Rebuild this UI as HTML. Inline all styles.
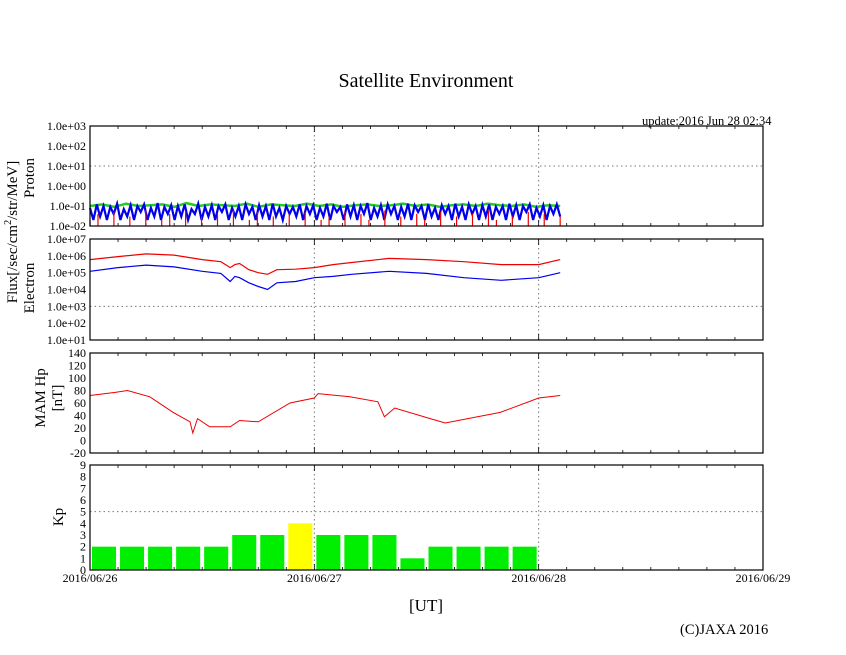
<!DOCTYPE html>
<html><head><meta charset="utf-8">
<style>
html,body{margin:0;padding:0;background:#fff;}
svg{display:block;font-family:"Liberation Serif",serif;}
</style></head>
<body>
<svg id="c" width="846" height="655" viewBox="0 0 846 655">
<text x="426" y="87" text-anchor="middle" font-size="20">Satellite Environment</text>
<text x="642" y="125" font-size="12.5">update:2016 Jun 28 02:34</text>
<text x="426" y="611" text-anchor="middle" font-size="17">[UT]</text>
<text x="680" y="634" font-size="14.5">(C)JAXA 2016</text>
<g id="g"></g>
</svg>
<script>
const dayLabels=["2016/06/26","2016/06/27","2016/06/28","2016/06/29"];
const kpValues=[2,2,2,2,2,3,3,4,3,3,3,1,2,2,2,2];
const elecHours=[0,3,6,9,12,14,15,15.5,16,17,18,19,20,22,24,26,28,32,36,40,44,48,50.3];
const elecRed=[6e5,9e5,1.3e6,1.1e6,6e5,4.5e5,2e5,3e5,3.5e5,1.5e5,1e5,8e4,1.5e5,1.6e5,2e5,3e5,4e5,7e5,6e5,4.5e5,3e5,3e5,6e5];
const elecBlue=[1.2e5,2e5,2.8e5,2.2e5,1.2e5,9e4,3e4,6e4,5e4,2.5e4,1.5e4,1e4,2.5e4,3e4,5e4,6e4,8e4,1.2e5,9e4,5e4,3.5e4,5e4,1e5];
const mamHours=[0,2.7,4,6.4,8.9,10.7,11,11.5,12.8,15,16,18,21.4,24,24.4,27.8,30.8,31.5,32.6,36.4,38,43.9,48,50.3];
const mamValues=[72,77,80,70,45,30,12,35,22,22,32,30,60,68,75,70,62,38,52,35,28,45,68,72];
const protonGreen=[0.1,0.12,0.09,0.13,0.1,0.11,0.12,0.09,0.14,0.1,0.12,0.11,0.1,0.13,0.09,0.12,0.11,0.1,0.13,0.1,0.12,0.09,0.11,0.12,0.1,0.11,0.13,0.1,0.12,0.09,0.11,0.12,0.1,0.13,0.11,0.1,0.12,0.09,0.11,0.1];
const protonBlue=[0.08,0.02,0.12,0.03,0.1,0.02,0.09,0.04,0.13,0.02,0.07,0.03,0.11,0.02,0.1,0.05,0.12,0.02,0.08,0.03,0.14,0.02,0.09,0.04,0.11,0.02,0.1,0.03,0.12,0.02,0.07,0.04,0.13,0.02,0.09,0.03,0.11,0.02,0.1,0.05,0.12,0.02,0.08,0.03,0.1,0.02,0.12,0.04,0.09,0.02,0.11,0.03,0.1,0.02,0.13,0.03,0.08,0.02,0.1,0.04,
0.09,0.03,0.12,0.02,0.1,0.04,0.11,0.02,0.08,0.03,0.13,0.02,0.1,0.05,0.09,0.02,0.12,0.03,0.11,0.02,0.1,0.04,0.14,0.02,0.08,0.03,0.11,0.02,0.12,0.04,0.1,0.02,0.09,0.03,0.13,0.02,0.11,0.05,0.1,0.02,0.12,0.03,0.08,0.02,0.11,0.04,0.1,0.02,0.13,0.03,0.09,0.02,0.12,0.04,0.1,0.02,0.11,0.03,0.12,0.02,0.09,0.04,0.1,0.02,0.13,0.03,0.11,0.02,0.1,0.05,0.12,0.02,0.08,0.03,0.11,0.02,0.1,0.04,0.12,0.03];
const protonRed=[0.02,0.04,0.01,0.05,0.01,0.03,0.01,0.06,0.01,0.02,0.04,0.01,0.05,0.01,0.03,0.01,0.04,0.01,0.06,0.01,0.02,0.05,0.01,0.03,0.01,0.04,0.01,0.05,0.01,0.02,0.03,0.01,0.05,0.01,0.04,0.02,0.01,0.06,0.01,0.03,0.01,0.04,0.02,0.01,0.05,0.01,0.03,0.01,0.04,0.01,0.06,0.02,0.01,0.03,0.01,0.05,0.01,0.04,0.01,0.03];
const protonTicks=["1.0e-02","1.0e-01","1.0e+00","1.0e+01","1.0e+02","1.0e+03"];
const elecTicks=["1.0e+01","1.0e+02","1.0e+03","1.0e+04","1.0e+05","1.0e+06","1.0e+07"];
const mamTicks=[-20,0,20,40,60,80,100,120,140];
const kpTicks=[0,1,2,3,4,5,6,7,8,9];

const NS="http://www.w3.org/2000/svg";
const g=document.getElementById('g');
const X0=90,X1=763,H=72;
const x=h=>X0+h*(X1-X0)/H;
function el(t,a,p){const e=document.createElementNS(NS,t);for(const k in a)e.setAttribute(k,a[k]);(p||g).appendChild(e);return e;}
const yP=v=>226-(Math.log10(v)+2)*20;
const yE=v=>340-(Math.log10(v)-1)*(101/6);
const yM=v=>453-(v+20)*(100/160);
const yK=v=>570-v*(105/9);

function frame(name,t,b){
  [24,48].forEach(h=>{const l=el('line',{x1:x(h),x2:x(h),y1:t,y2:b,stroke:'#777','stroke-dasharray':'1.5,3'});
    
    });
  for(let h=3;h<72;h+=3){
    const len=h%24==0?6:3;
    el('line',{x1:x(h),x2:x(h),y1:t,y2:t+len,stroke:'#000','stroke-width':0.8});
    el('line',{x1:x(h),x2:x(h),y1:b,y2:b-len,stroke:'#000','stroke-width':0.8});
  }
}
function border(name,t,b){
  const r=el('rect',{x:X0,y:t,width:X1-X0,height:b-t,fill:'none',stroke:'#000','stroke-width':1.2});
  
  
}
function ylab(txt,y,name){const e=el('text',{x:X0-4,y:y+4,'text-anchor':'end','font-size':12});e.textContent=txt;
  
  }
function hgrid(y){el('line',{x1:X0,x2:X1,y1:y,y2:y,stroke:'#777','stroke-dasharray':'1.5,3'});}
function pathOf(xs,ys){return xs.map((v,i)=>(i?'L':'M')+v.toFixed(1)+','+ys[i].toFixed(1)).join('');}

// Proton
frame('proton',126,226);hgrid(yP(10));
protonTicks.forEach((t,i)=>ylab(t,yP(Math.pow(10,i-2)),'proton-y-tick'));
{
  const span=50.3;
  const gn=protonGreen.length;
  const pg=el('path',{d:pathOf(protonGreen.map((v,i)=>x(i*span/(gn-1))),protonGreen.map(yP)),fill:'none',stroke:'#2c2','stroke-width':2.5});
  
  
  const bn=protonBlue.length;
  const pb=el('path',{d:pathOf(protonBlue.map((v,i)=>x(i*span/(bn-1))),protonBlue.map(yP)),fill:'none',stroke:'#00e','stroke-width':2.2});
  
  
  const n=protonRed.length;
  protonRed.forEach((v,i)=>{const l=el('line',{x1:x(i*span/(n-1)),x2:x(i*span/(n-1)),y1:226,y2:yP(v),stroke:'#e00','stroke-width':1.2});
    
    });
}
border('proton-panel',126,226);

// Electron
frame('electron',239,340);hgrid(yE(1e3));
elecTicks.forEach((t,i)=>ylab(t,yE(Math.pow(10,i+1)),'electron-y-tick'));
{
  const r=el('path',{d:pathOf(elecHours.map(x),elecRed.map(yE)),fill:'none',stroke:'#e00','stroke-width':1.2});
  
  
  const b=el('path',{d:pathOf(elecHours.map(x),elecBlue.map(yE)),fill:'none',stroke:'#00e','stroke-width':1.2});
  
  
}
border('electron-panel',239,340);

// MAM
frame('mam',353,453);
mamTicks.forEach(t=>ylab(String(t),yM(t),'mam-y-tick'));
{
  const m=el('path',{d:pathOf(mamHours.map(x),mamValues.map(yM)),fill:'none',stroke:'#e00','stroke-width':1});
  
  
}
border('mam-panel',353,453);

// Kp
frame('kp',465,570);hgrid(yK(5));
kpTicks.forEach(t=>ylab(String(t),yK(t),'kp-y-tick'));
kpValues.forEach((v,i)=>{
  const r=el('rect',{x:x(i*3)+2,y:yK(v),width:x(3)-x(0)-4,height:570-yK(v),fill:v>=4?'#ffff00':'#00ee00'});
  
  
});
border('kp-panel',465,570);

dayLabels.forEach((d,i)=>{const t=el('text',{x:x(i*24),y:582,'text-anchor':'middle','font-size':12});t.textContent=d;
  
  });

function ytitle(lines,cx,cy,name,fs){
  const t=el('text',{transform:`translate(${cx},${cy}) rotate(-90)`,'text-anchor':'middle','font-size':fs||15});
  
  
  lines.forEach((l,i)=>{const s=el('tspan',{x:0,dy:i?17:0},t);s.innerHTML=l;});
}
ytitle(['Flux[/sec/cm<tspan dy="-6" font-size="10">2</tspan><tspan dy="6">/str/MeV]</tspan>'],17,232,'flux-y-title');
ytitle(['Proton'],34,178,'proton-y-title');
ytitle(['Electron'],34,288,'electron-y-title');
ytitle(['MAM Hp','[nT]'],45,398,'mam-y-title');
ytitle(['Kp'],63,517,'kp-y-title');
</script>
</body></html>
